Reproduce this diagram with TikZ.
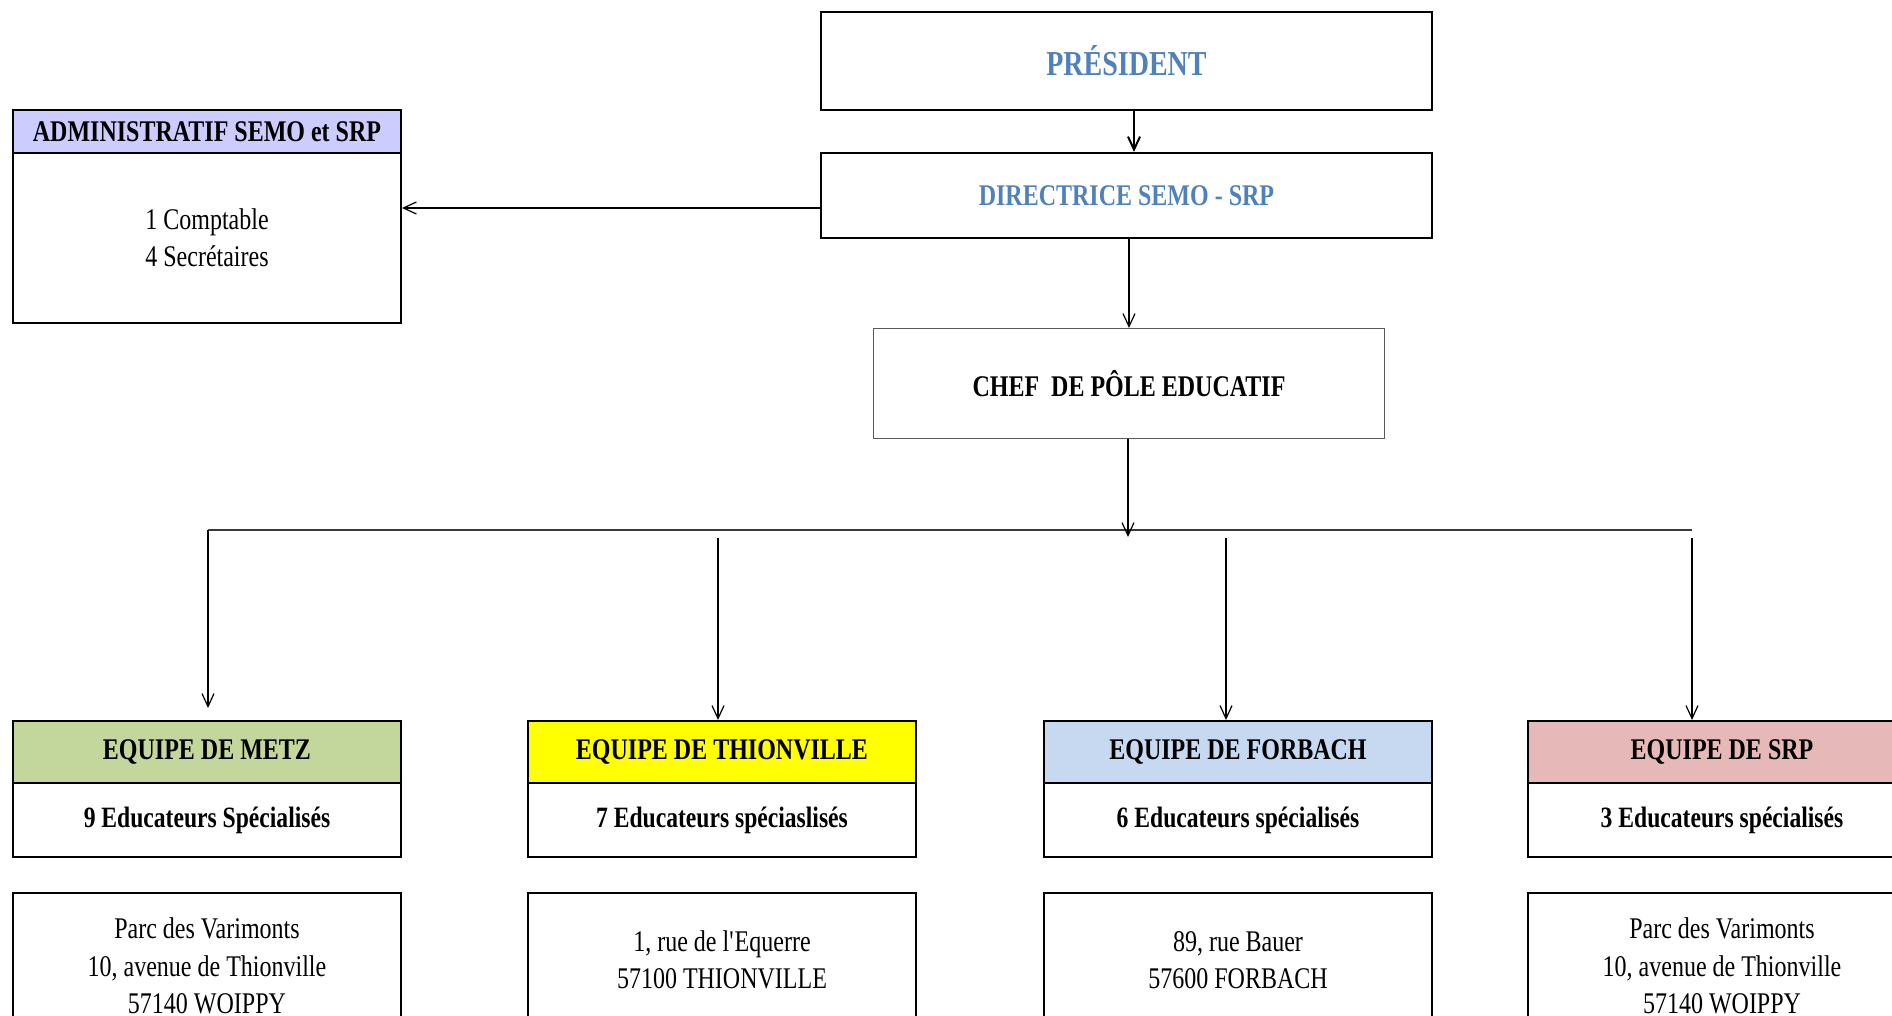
\documentclass[tikz,border=0pt]{standalone}
\usepackage{fontspec}
\setmainfont{Liberation Serif}[FakeStretch=0.8]
\usetikzlibrary{arrows.meta,calc}
\definecolor{titleblue}{HTML}{4F81BD}
\definecolor{lav}{HTML}{CCCCFF}
\definecolor{olivefill}{HTML}{C3D69B}
\definecolor{yelfill}{HTML}{FFFF00}
\definecolor{bluefill}{HTML}{C6D9F1}
\definecolor{rosefill}{HTML}{E6B9B8}
\definecolor{busgray}{HTML}{3A3A3A}
\tikzset{
  box/.style={draw, line width=2pt, rectangle, anchor=north west, inner sep=0pt, align=center},
  bigbold/.style={font=\bfseries\fontsize{30}{36}\selectfont},
  bodybold/.style={font=\bfseries\fontsize{29.5}{36}\selectfont},
  plain/.style={font=\fontsize{30}{37.5}\selectfont},
  arr/.style={-{Straight Barb[length=13pt,width=12pt]}, line width=1.2pt},
}
\begin{document}
\begin{tikzpicture}[x=1pt,y=-1pt]
\clip (0,0) rectangle (1892,1016);
\fill[white] (0,0) rectangle (1892,1016);

% top chain
\node[box, minimum width=611pt, minimum height=98pt, text=titleblue, font=\bfseries\fontsize{35}{40}\selectfont] (pres) at (820,11) {PRÉSIDENT};
\node[box, minimum width=611pt, minimum height=85pt, text=titleblue, bigbold] (dir) at (820,152) {DIRECTRICE SEMO - SRP};
\node[box, draw=gray!70!black, line width=1pt, minimum width=511pt, minimum height=110pt, bigbold] (chef) at (873,328) {CHEF\ \ DE PÔLE EDUCATIF};

% admin
\node[box, fill=lav, minimum width=388pt, minimum height=43pt, bigbold] (admh) at (12,109) {ADMINISTRATIF SEMO et SRP};
\node[box, minimum width=388pt, minimum height=170pt, plain, font=\fontsize{30}{37}\selectfont] (admb) at (12,152) {1 Comptable\\4 Secrétaires};

% teams
\node[box, fill=olivefill, minimum width=388pt, minimum height=62pt, bigbold] (metzh) at (12,720) {EQUIPE DE METZ};
\node[box, minimum width=388pt, minimum height=74pt, bodybold] (metzb) at (12,782) {9 Educateurs Spécialisés};
\node[box, minimum width=388pt, minimum height=146pt, plain] (metza) at (12,892) {Parc des Varimonts\\10, avenue de Thionville\\57140 WOIPPY};

\node[box, fill=yelfill, minimum width=388pt, minimum height=62pt, bigbold] (thih) at (527,720) {EQUIPE DE THIONVILLE};
\node[box, minimum width=388pt, minimum height=74pt, bodybold] (thib) at (527,782) {7 Educateurs spéciaslisés};
\node[box, minimum width=388pt, minimum height=134pt, plain] (thia) at (527,892) {1, rue de l\textquotesingle Equerre\\57100 THIONVILLE};

\node[box, fill=bluefill, minimum width=388pt, minimum height=62pt, bigbold] (forh) at (1043,720) {EQUIPE DE FORBACH};
\node[box, minimum width=388pt, minimum height=74pt, bodybold] (forb) at (1043,782) {6 Educateurs spécialisés};
\node[box, minimum width=388pt, minimum height=134pt, plain] (fora) at (1043,892) {89, rue Bauer\\57600 FORBACH};

\node[box, fill=rosefill, minimum width=388pt, minimum height=62pt, bigbold] (srph) at (1527,720) {EQUIPE DE SRP};
\node[box, minimum width=388pt, minimum height=74pt, bodybold] (srpb) at (1527,782) {3 Educateurs spécialisés};
\node[box, minimum width=388pt, minimum height=146pt, plain] (srpa) at (1527,892) {Parc des Varimonts\\10, avenue de Thionville\\57140 WOIPPY};

% connectors
\coordinate (px) at (1134,0);
\draw[arr, line width=2pt] (pres.south -| px) -- (dir.north -| px);
\draw[arr] (dir.south -| chef.north) -- (chef.north);
\coordinate (ay) at (0,208);
\draw[arr] (dir.west |- ay) -- (admb.east |- ay);

\coordinate (busL) at (208,530);
\coordinate (busR) at (1692,530);
\draw[busgray, line width=2.4pt] (busL) -- (busR);
\coordinate (chefend) at (1128,537);
\draw[arr] (chef.south -| chefend) -- (chefend);

\coordinate (metzend) at (208,708);
\draw[arr] (busL) -- (metzend);
\coordinate (t1) at (718,538);
\draw[arr] (t1) -- (t1 |- thih.north);
\coordinate (t2) at (1226,538);
\draw[arr] (t2) -- (t2 |- forh.north);
\coordinate (t3) at (1692,538);
\draw[arr] (t3) -- (t3 |- srph.north);
\end{tikzpicture}
\end{document}
